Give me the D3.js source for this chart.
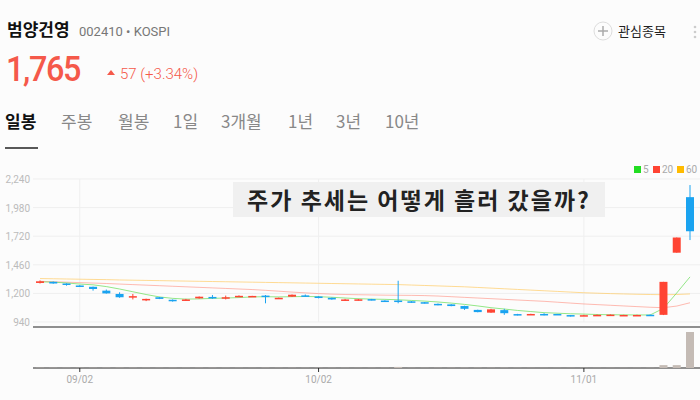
<!DOCTYPE html><html><head><meta charset="utf-8">
<script src="https://d3js.org/d3.v7.min.js"></script>
<style>body{margin:0;background:#fcfcfc;font-family:"Noto Sans CJK KR","Noto Sans",sans-serif}</style></head><body>
<svg id="c" width="700" height="400"></svg>
<script>
const opens  =[1295,1305,1290,1272,1260,1225,1195,1170,1140,1165,1142,1135,1155,1168,1160,1170,1174,1180,1155,1170,1182,1172,1160,1135,1138,1148,1135,1135,1128,1120,1105,1100,1085,1050,1025,1048,1012,1007,1013,1013,1003,997,1000,1002,1000,1000,1006,1005,1570,2075];
const closes =[1310,1290,1280,1262,1240,1200,1165,1175,1150,1150,1138,1145,1170,1165,1165,1178,1177,1168,1160,1188,1175,1158,1145,1145,1146,1138,1126,1125,1118,1112,1095,1085,1060,1030,1055,1020,1008,1013,1009,1011,998,1002,1005,1007,1004,1004,1000,1305,1708,1765];
const highs  =[1318,1308,1292,1275,1262,1235,1210,1195,1152,1168,1145,1150,1172,1185,1180,1182,1178,1185,1162,1190,1190,1175,1162,1150,1150,1150,1138,1315,1130,1122,1108,1102,1088,1052,1060,1060,1014,1015,1020,1014,1004,1005,1008,1009,1006,1006,1008,1305,1708,2185];
const lows   =[1290,1288,1270,1258,1225,1198,1160,1145,1130,1148,1125,1132,1152,1150,1145,1168,1172,1110,1152,1168,1172,1155,1142,1132,1135,1136,1124,1110,1115,1108,1092,1083,1050,1028,1023,1005,1000,1005,1000,1008,990,995,1000,1002,998,998,995,1003,1570,1685];
const volumes=[0.6,0.5,0.4,0.4,0.5,0.6,0.6,0.5,0.4,0.4,0.4,0.4,0.5,0.5,0.4,0.4,0.3,0.6,0.4,0.5,0.4,0.5,0.4,0.4,0.3,0.4,0.4,3,0.4,0.4,0.5,0.5,0.6,0.6,0.5,0.6,0.4,0.3,0.3,0.3,0.3,0.3,0.3,0.3,0.3,0.3,0.4,8,8,100];
const ma5 =[1305,1302,1295,1285,1278,1262,1240,1215,1190,1168,1155,1148,1150,1155,1158,1162,1168,1170,1168,1170,1172,1170,1165,1158,1152,1148,1146,1142,1136,1130,1122,1112,1100,1086,1070,1058,1045,1035,1025,1020,1015,1012,1008,1006,1005,1004,1004,1064,1204,1350];
const ma20=[1310,1306,1302,1298,1294,1290,1285,1280,1275,1270,1265,1260,1255,1250,1245,1240,1235,1228,1220,1212,1205,1198,1193,1190,1188,1186,1184,1183,1182,1180,1176,1170,1164,1158,1152,1146,1140,1134,1128,1120,1112,1104,1098,1092,1086,1080,1074,1070,1085,1115];
const ma60=[1335,1333,1331,1329,1327,1325,1322,1320,1318,1316,1314,1312,1310,1308,1306,1304,1302,1300,1298,1296,1294,1292,1290,1288,1286,1284,1282,1280,1276,1272,1268,1264,1260,1254,1248,1242,1236,1230,1224,1218,1212,1206,1202,1198,1195,1192,1190,1188,1190,1195];
const yTicks=[940,1200,1460,1720,1980,2240];
const dateTicks=[{i:3,label:"09/02"},{i:21,label:"10/02"},{i:41,label:"11/01"}];
const legend=[{k:"5",c:"#22dd22"},{k:"20",c:"#ff4433"},{k:"60",c:"#ffbb00"}];
const tabs=["일봉","주봉","월봉","1일","3개월","1년","3년","10년"];

const svg=d3.select("#c");
const idx=d3.range(closes.length);
const x=d3.scaleLinear().domain([0,49]).range([40,690]);
const y=d3.scaleLinear().domain([940,2240]).range([322,179]);
const yv=d3.scaleLinear().domain([0,100]).range([368,332]);
const up="#ff4433",dn="#1aa3f0";

svg.append("text").attr("x",7).attr("y",36).attr("font-size",17).attr("font-weight","bold").attr("fill","#111").text("범양건영");
svg.append("text").attr("x",79).attr("y",36).attr("font-size",13).attr("fill","#777").attr("font-family","Roboto").text("002410 • KOSPI");
svg.append("text").attr("x",6).attr("y",81).attr("font-size",36).attr("fill","#f5594a").attr("font-family","Roboto").attr("font-weight","500").attr("letter-spacing",-1.5).attr("transform","translate(6,81) scale(0.9,1) translate(-6,-81)").text("1,765");
svg.append("path").attr("d","M107,75 l4,-5 l4,5z").attr("fill","#f5594a");
svg.append("text").attr("x",120).attr("y",79).attr("font-size",15).attr("fill","#f5594a").attr("font-family","Roboto").attr("font-weight","300").text("57 (+3.34%)");
svg.append("circle").attr("cx",603).attr("cy",31).attr("r",9).attr("fill","none").attr("stroke","#ddd");
svg.append("path").attr("d","M598,31h10M603,26v10").attr("stroke","#aaa").attr("stroke-width",1.5);
svg.append("text").attr("x",618).attr("y",36).attr("font-size",13).attr("fill","#222").text("관심종목");
[27,32,37].forEach(v=>svg.append("circle").attr("cx",695).attr("cy",v).attr("r",1.3).attr("fill","#ccc"));
const tabX=[5,61,118,173,221,288,336,385];
tabs.forEach((t,i)=>svg.append("text").attr("x",tabX[i]).attr("y",128).attr("font-size",17).attr("font-weight",i?"normal":"bold").attr("fill",i?"#888":"#111").text(t));
svg.append("line").attr("x1",5).attr("x2",38).attr("y1",148).attr("y2",148).attr("stroke","#222").attr("stroke-width",1.5);

const g=svg.append("g");
yTicks.forEach(v=>{
  g.append("line").attr("x1",33).attr("x2",700).attr("y1",y(v)).attr("y2",y(v)).attr("stroke","#efefef");
  g.append("text").attr("x",30).attr("y",y(v)+4).attr("text-anchor","end").attr("font-size",10).attr("fill","#bbb").attr("font-family","Roboto").text(d3.format(",")(v));
});
dateTicks.forEach(d=>{
  g.append("line").attr("x1",x(d.i)).attr("x2",x(d.i)).attr("y1",179).attr("y2",322).attr("stroke","#efefef");
  g.append("line").attr("x1",x(d.i)).attr("x2",x(d.i)).attr("y1",368).attr("y2",372).attr("stroke","#333");
  g.append("text").attr("x",x(d.i)).attr("y",383).attr("text-anchor","middle").attr("font-size",10).attr("fill","#aaa").attr("font-family","Roboto").text(d.label);
});
svg.append("line").attr("x1",33).attr("x2",700).attr("y1",327).attr("y2",327).attr("stroke","#222");
svg.append("line").attr("x1",33).attr("x2",700).attr("y1",368).attr("y2",368).attr("stroke","#222");

svg.append("rect").attr("x",233).attr("y",182).attr("width",372).attr("height",35).attr("fill","#f0f0f0");
svg.append("text").attr("x",419).attr("y",209).attr("text-anchor","middle").attr("font-size",23).attr("font-weight","bold").attr("fill","#222").attr("letter-spacing",2).text("주가 추세는 어떻게 흘러 갔을까?");

let lx=634;
legend.forEach(l=>{
  svg.append("rect").attr("x",lx).attr("y",166).attr("width",7).attr("height",7).attr("fill",l.c);
  svg.append("text").attr("x",lx+9).attr("y",173).attr("font-size",10).attr("fill","#aaa").attr("font-family","Roboto").text(l.k);
  lx+=l.k.length>1?24:19;
});

const line=arr=>d3.line().x(i=>x(i)).y(i=>y(arr[i]))(idx);
svg.append("path").attr("d",line(ma60)).attr("fill","none").attr("stroke","#ffcc66").attr("stroke-opacity",0.7);
svg.append("path").attr("d",line(ma20)).attr("fill","none").attr("stroke","#ff7766").attr("stroke-opacity",0.5);
svg.append("path").attr("d",line(ma5)).attr("fill","none").attr("stroke","#66dd55").attr("stroke-opacity",0.7);

const cw=8;
idx.forEach(i=>{
  const c=closes[i]>=opens[i]?up:dn;
  svg.append("line").attr("x1",x(i)).attr("x2",x(i)).attr("y1",y(highs[i])).attr("y2",y(lows[i])).attr("stroke",c);
  const t=y(Math.max(opens[i],closes[i])),b=y(Math.min(opens[i],closes[i]));
  svg.append("rect").attr("x",x(i)-cw/2).attr("y",t).attr("width",cw).attr("height",Math.max(1.5,b-t)).attr("fill",c);
  svg.append("rect").attr("x",x(i)-cw/2).attr("y",yv(volumes[i])).attr("width",cw).attr("height",368-yv(volumes[i])).attr("fill","#c4bbb5");
});
</script></body></html>
